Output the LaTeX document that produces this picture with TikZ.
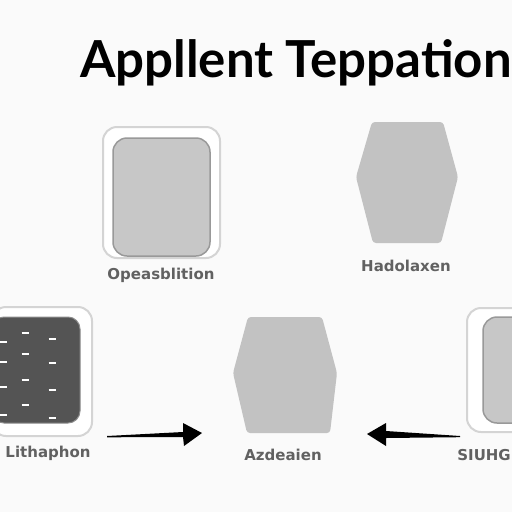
\documentclass[tikz,border=0pt]{standalone}
\usepackage{fontspec}
\setmainfont{Lato}
\newfontfamily\lblfont{DejaVu Sans}
\begin{document}
\begin{tikzpicture}[x=1pt,y=-1pt,
  outerbox/.style={draw=black!17,line width=2pt,fill=white,rounded corners=14pt},
  innerbox/.style={draw=black!40,line width=1.5pt,fill=black!22,rounded corners=14pt},
  darkbox/.style={draw=black!45,line width=1pt,fill=black!67,rounded corners=12pt},
  hexfill/.style={fill=black!24,draw=none,rounded corners=3pt},
  lbl/.style={font=\lblfont\bfseries\fontsize{15}{15}\selectfont,text=black!62,inner sep=0pt},
  dsh/.style={white,line width=1.6pt},
  arr/.style={fill=black,draw=none}]
\useasboundingbox (0,0) rectangle (512,512);
\fill[black!2] (0,0) rectangle (512,512);
\begin{scope}
\clip (0,0) rectangle (512,512);
% title
\node[anchor=base west,inner sep=0pt,font=\bfseries\fontsize{51}{51}\selectfont] (title) at (80,77) {Appllent Teppation};
% top-left box
\draw[outerbox] (103,127) rectangle (220,258);
\draw[innerbox] (113,138) rectangle (210,256);
\node[lbl] (l1) at (161,275) {Opeasblition};
% top-right hexagon
\fill[hexfill] (372,122) -- (443,122) -- (458,177) -- (441,243) -- (373,243) -- (356,177) -- cycle;
\node[lbl] (l2) at (406,266) {Hadolaxen};
% bottom-left box
\draw[outerbox] (-8,307) rectangle (92,436);
\draw[darkbox] (-8,317) rectangle (80,423);
\foreach \x/\y in {3/342,3/362,3/387,3/415,25/333,25/354,25/380,25/405,52/339,52/363,52/390,52/418}
  \draw[dsh] (\x-3.5,\y) -- (\x+3.5,\y);
\node[lbl] (l3) at (48,453) {Lithaphon};
% bottom-middle hexagon
\fill[hexfill] (248,317) -- (322,317) -- (337,373) -- (330,433) -- (247,433) -- (233,373) -- cycle;
\node[lbl] (l4) at (283,455) {Azdeaien};
% bottom-right box
\draw[outerbox] (467,308) rectangle (530,432);
\draw[innerbox] (483,317) rectangle (530,423);
\node[lbl,anchor=east] (l5) at (511,455) {SIUHG};
% arrows
\coordinate (a1t) at (107,436);
\coordinate (a1h) at (202,433);
\fill[arr] (a1t) -- (183,432) -- (183,423) -- (a1h) -- (184,446) -- (183,437) -- (107,437.3) -- cycle;
\coordinate (a2t) at (460,436);
\coordinate (a2h) at (367,434);
\fill[arr] (a2t) -- (386,431) -- (386,423) -- (a2h) -- (386,446) -- (386,438) -- (460,437.2) -- cycle;
\end{scope}
\end{tikzpicture}
\end{document}
